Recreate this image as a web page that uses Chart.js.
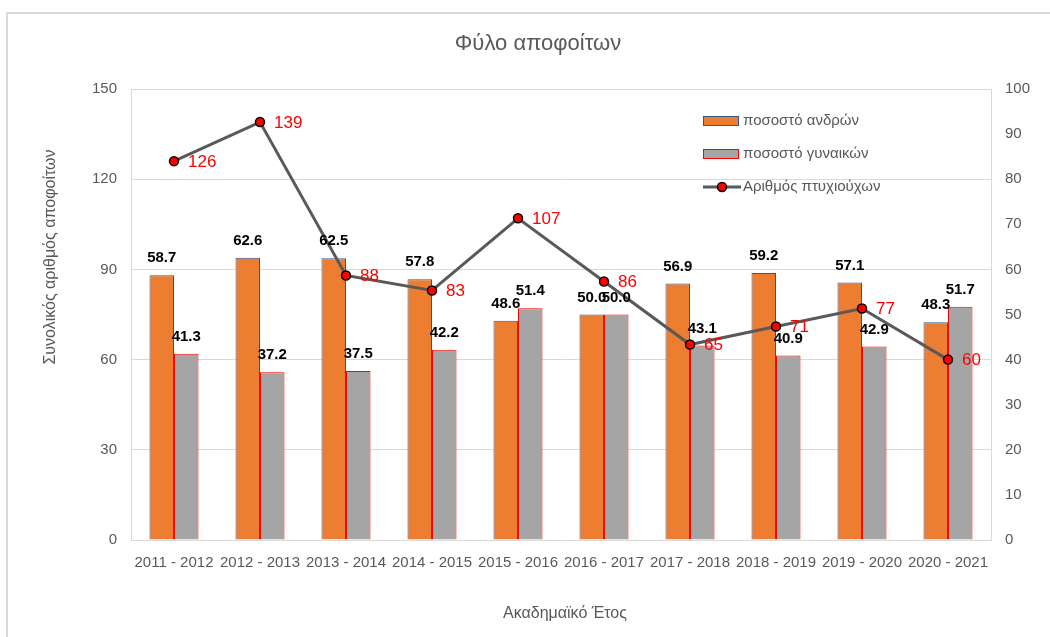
<!DOCTYPE html>
<html><head><meta charset="utf-8">
<script src="https://cdn.jsdelivr.net/npm/chart.js@4"></script>
<style>html,body{margin:0;padding:0;background:#fff;overflow:hidden}#wrap{position:relative;width:1050px;height:637px}</style>
</head><body><div id="wrap"><canvas id="c" width="1050" height="637"></canvas></div>
<script>
const categories = ['2011 - 2012','2012 - 2013','2013 - 2014','2014 - 2015','2015 - 2016','2016 - 2017','2017 - 2018','2018 - 2019','2019 - 2020','2020 - 2021'];
const menPct = [58.7, 62.6, 62.5, 57.8, 48.6, 50.0, 56.9, 59.2, 57.1, 48.3];
const womenPct = [41.3, 37.2, 37.5, 42.2, 51.4, 50.0, 43.1, 40.9, 42.9, 51.7];
const graduates = [126, 139, 88, 83, 107, 86, 65, 71, 77, 60];
const seriesNames = ['ποσοστό ανδρών', 'ποσοστό γυναικών', 'Αριθμός πτυχιούχων'];
const chartTitle = 'Φύλο αποφοίτων';
const yLeftTitle = 'Συνολικός αριθμός αποφοίτων';
const xTitle = 'Ακαδημαϊκό Έτος';

const FONT = "'Liberation Sans', Arial, sans-serif";
const GREY = '#595959';

const decor = {
  id: 'decor',
  beforeDraw(chart) {
    const ctx = chart.ctx;
    ctx.save();
    ctx.fillStyle = '#fff';
    ctx.fillRect(0, 0, chart.width, chart.height);
    ctx.strokeStyle = '#d9d9d9';
    ctx.lineWidth = 2;
    ctx.strokeRect(7, 13, 1200, 800);
    ctx.restore();
  },
  afterDatasetsDraw(chart) {
    const ctx = chart.ctx;
    ctx.save();
    // bar labels
    [0, 1].forEach(di => {
      const meta = chart.getDatasetMeta(di);
      const vals = chart.data.datasets[di].data;
      ctx.font = 'bold 15px ' + FONT;
      ctx.fillStyle = '#000';
      ctx.textAlign = 'center';
      ctx.textBaseline = 'middle';
      meta.data.forEach((el, i) => {
        ctx.fillText(vals[i].toFixed(1), el.x, el.y - 17);
      });
    });
    // line labels
    const lm = chart.getDatasetMeta(2);
    ctx.font = '17px ' + FONT;
    ctx.fillStyle = '#FF0000';
    ctx.textAlign = 'left';
    ctx.textBaseline = 'middle';
    lm.data.forEach((el, i) => {
      ctx.fillText(String(graduates[i]), el.x + 14, el.y + 1);
    });
    ctx.restore();
  },
  afterDraw(chart) {
    const ctx = chart.ctx;
    ctx.save();
    // title
    ctx.fillStyle = GREY;
    ctx.font = '22px ' + FONT;
    ctx.textAlign = 'center';
    ctx.textBaseline = 'middle';
    ctx.fillText(chartTitle, 538, 44);
    // axis titles
    ctx.font = '16px ' + FONT;
    ctx.fillText(xTitle, 565, 614);
    ctx.save();
    ctx.translate(51, 257);
    ctx.rotate(-Math.PI / 2);
    ctx.fillText(yLeftTitle, 0, 0);
    ctx.restore();
    // legend
    ctx.textAlign = 'left';
    ctx.font = '15px ' + FONT;
    const lx = 703;
    const rows = [121, 154, 187];
    ctx.fillStyle = '#ED7D31';
    ctx.fillRect(lx, 116, 36, 10);
    ctx.strokeStyle = '#2F5597'; ctx.lineWidth = 1;
    ctx.strokeRect(lx + 0.5, 116.5, 35, 9);
    ctx.fillStyle = '#A5A5A5';
    ctx.fillRect(lx, 149, 36, 10);
    ctx.strokeStyle = '#FF0000';
    ctx.strokeRect(lx + 0.5, 149.5, 35, 9);
    ctx.strokeStyle = GREY; ctx.lineWidth = 3;
    ctx.beginPath(); ctx.moveTo(lx, 187); ctx.lineTo(lx + 38, 187); ctx.stroke();
    ctx.beginPath(); ctx.arc(lx + 19, 187, 4.5, 0, Math.PI * 2);
    ctx.fillStyle = '#FF0000'; ctx.fill();
    ctx.lineWidth = 1.5; ctx.strokeStyle = '#000'; ctx.stroke();
    ctx.fillStyle = GREY;
    seriesNames.forEach((n, i) => ctx.fillText(n, 743, rows[i]));
    ctx.restore();
  }
};

new Chart(document.getElementById('c'), {
  data: {
    labels: categories,
    datasets: [
      { type: 'bar', label: seriesNames[0], data: menPct, yAxisID: 'yR', backgroundColor: '#ED7D31', borderColor: '#2F5597', borderWidth: 1, order: 2 },
      { type: 'bar', label: seriesNames[1], data: womenPct, yAxisID: 'yR', backgroundColor: '#A5A5A5', borderColor: '#FF0000', borderWidth: 1, order: 2 },
      { type: 'line', label: seriesNames[2], data: graduates, yAxisID: 'yL', borderColor: GREY, borderWidth: 3, tension: 0,
        pointRadius: 4.5, pointBackgroundColor: '#FF0000', pointBorderColor: '#000', pointBorderWidth: 1.5, order: 1 }
    ]
  },
  options: {
    responsive: false,
    devicePixelRatio: 1,
    animation: false,
    events: [],
    layout: { padding: { top: 89, left: 0, right: 0, bottom: 0 } },
    plugins: { legend: { display: false }, title: { display: false }, tooltip: { enabled: false } },
    datasets: { bar: { categoryPercentage: 0.57, barPercentage: 1.0 } },
    scales: {
      x: {
        grid: { display: false, drawTicks: false },
        border: { color: '#d9d9d9' },
        ticks: { padding: 14, color: GREY, font: { size: 15, family: FONT }, maxRotation: 0, autoSkip: false },
        afterFit: s => { s.height = 97; }
      },
      yL: {
        position: 'left', min: 0, max: 150,
        ticks: { stepSize: 30, padding: 14, color: GREY, font: { size: 15, family: FONT } },
        grid: { color: '#d9d9d9', drawTicks: false },
        border: { color: '#d9d9d9' },
        afterFit: s => { s.width = 131; }
      },
      yR: {
        position: 'right', min: 0, max: 100,
        ticks: { stepSize: 10, padding: 14, color: GREY, font: { size: 15, family: FONT } },
        grid: { drawOnChartArea: false, drawTicks: false },
        border: { color: '#d9d9d9' },
        afterFit: s => { s.width = 59; }
      }
    }
  },
  plugins: [decor]
});
</script></body></html>
